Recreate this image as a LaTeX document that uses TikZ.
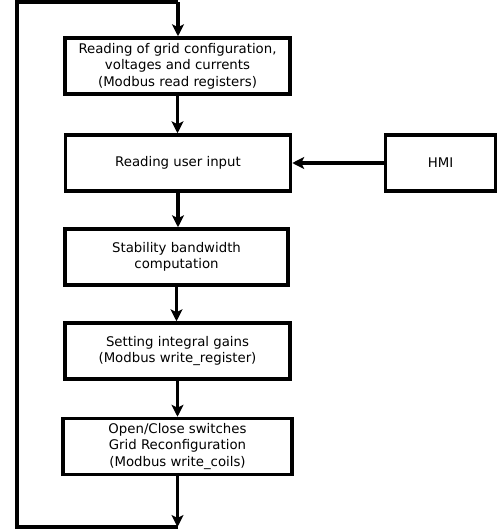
\documentclass[tikz,border=0pt]{standalone}
\usepackage{fontspec}
\setmainfont{DejaVu Sans}
\usetikzlibrary{arrows.meta}
\begin{document}
\begin{tikzpicture}[x=1pt,y=-1pt,
  box/.style={draw,line width=3.5pt,minimum width=225pt,minimum height=56pt,inner sep=0pt,align=center,font=\fontsize{13.3}{16.5}\selectfont},
  conn/.style={line width=3.5pt},
  arr/.style={conn,-{Stealth[length=12pt,width=12pt,inset=3pt]}}]
\useasboundingbox (0,0) rectangle (497,531);
\node[box] (b1) at (177.5,66) {Reading of grid configuration,\\voltages and currents\\(Modbus read registers)};
\node[box] (b2) at (178,163) {Reading user input};
\node[box,minimum width=223pt] (b3) at (176.5,257) {Stability bandwidth\\computation};
\node[box] (b4) at (177.5,351) {Setting integral gains\\(Modbus write\_register)};
\node[box,minimum width=229pt] (b5) at (177.5,446.5) {Open/Close switches\\Grid Reconfiguration\\(Modbus write\_coils)};
\node[box,minimum width=110pt] (hmi) at (440.5,163) {HMI};
\coordinate (tl) at (17,2);
\coordinate (tr) at (178,2);
\coordinate (bl) at (17,527);
\coordinate (br) at (178,527);
\draw[arr] (tr) -- (tr |- b1.north);
\draw[arr] (b1.south) -- (b1.south |- b2.north);
\draw[arr] (b2.south) -- (b2.south |- b3.north);
\draw[arr] (b3.south) -- (b3.south |- b4.north);
\draw[arr] (b4.south) -- (b4.south |- b5.north);
\draw[arr] (b5.south) -- (b5.south |- br);
\draw[conn,line join=miter] (br) -- (bl) -- (tl) -- (tr);
\draw[arr] (hmi.west) -- (b2.east);
\end{tikzpicture}
\end{document}
